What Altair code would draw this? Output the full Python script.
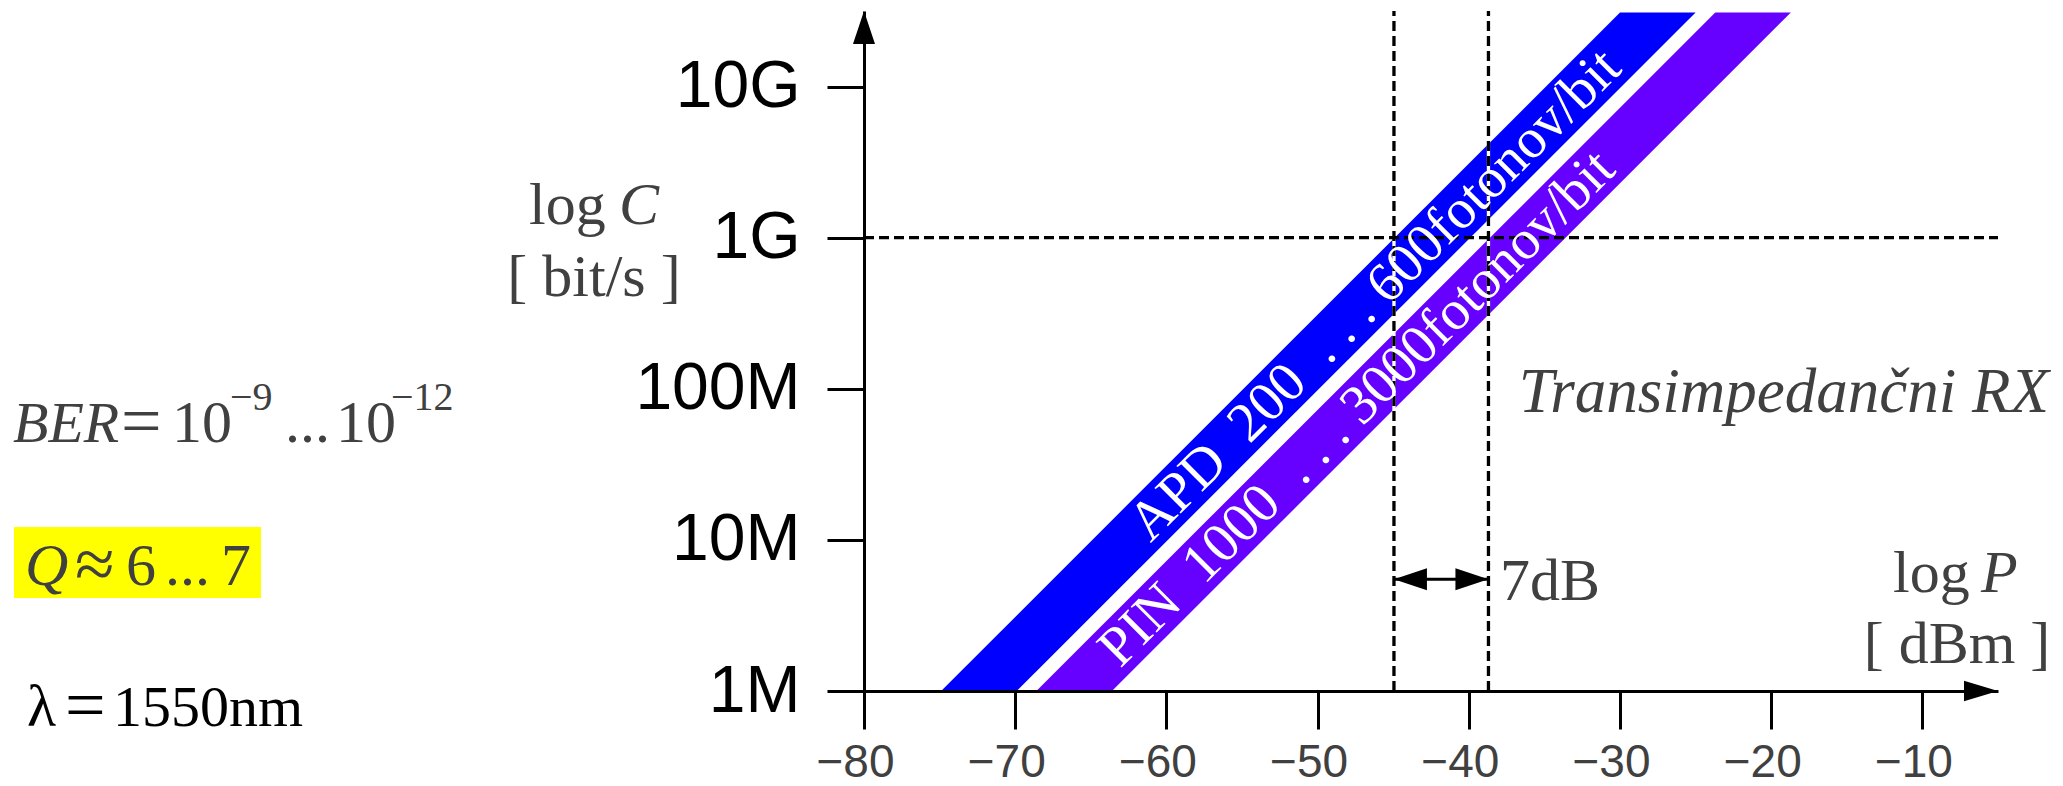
import altair as alt
import pandas as pd

# ---------------- data ----------------
y_tick_values = [6, 7, 8, 9, 10]                 # log10(C / (bit/s))
y_tick_labels = ["1M", "10M", "100M", "1G", "10G"]
x_tick_values = [-80, -70, -60, -50, -40, -30, -20, -10]
x_domain = [-80, -5]
y_domain = [6, 10.5]

band_names = ["APD", "PIN"]
band_left_1M = [-74.9, -68.6]      # dBm at 1 Mbit/s
band_right_1M = [-69.9, -63.6]
band_logc = [6.0, 10.49]
db_per_decade = 10.0
band_colors = ["#0000FF", "#6600FF"]
NB = "\u00a0"
band_labels = [f"APD{NB}{NB}200{NB}{NB}.{NB}.{NB}.{NB}600fotonov/bit",
               f"PIN{NB}{NB}1000{NB}{NB}.{NB}.{NB}.{NB}3000fotonov/bit"]
band_label_logc = [8.62, 7.87]

vline_dbm = [-44.95, -38.7]
hline_logc = [9]
gap_arrow_logc = [6.74]
gap_label = ["7dB"]

# ---------------- geometry ----------------
OX, OY = 864, 11
W, H = 1134, 680
GREY = "#404040"
SERIF = "Liberation Serif"
SANS = "Liberation Sans"

layers = []

# bands
for i, name in enumerate(band_names):
    df = pd.DataFrame({
        "logc": band_logc,
        "p1": [band_left_1M[i] + db_per_decade * (c - 6) for c in band_logc],
        "p2": [band_right_1M[i] + db_per_decade * (c - 6) for c in band_logc],
    })
    layers.append(
        alt.Chart(df).mark_area(orient="horizontal", color=band_colors[i], opacity=1)
        .encode(
            y=alt.Y("logc:Q", scale=alt.Scale(domain=y_domain, nice=False, zero=False),
                    axis=alt.Axis(values=y_tick_values, tickSize=37, tickWidth=3, domainWidth=3,
                                  domainColor="black", tickColor="black",
                                  labelFont=SANS, labelFontSize=66, labelColor="black",
                                  labelPadding=27, title=None, grid=False, zindex=1,
                                  labelExpr=" : ".join(
                                      f"datum.value == {v} ? '{l}'" for v, l in zip(y_tick_values, y_tick_labels)
                                  ) + " : ''")),
            x=alt.X("p1:Q", scale=alt.Scale(domain=x_domain, nice=False, zero=False),
                    axis=alt.Axis(values=x_tick_values, tickSize=38, tickWidth=3, domainWidth=3,
                                  domainColor="black", tickColor="black",
                                  labelFont=SANS, labelFontSize=46, labelColor=GREY,
                                  labelPadding=11, labelOffset=-9, title=None, grid=False,
                                  labelFlush=False, labelOverlap=False, zindex=1)),
            x2="p2:Q",
        )
    )

# reference lines
vdf = pd.DataFrame({"p": vline_dbm, "y0": [y_domain[0]] * len(vline_dbm), "y1": [y_domain[1]] * len(vline_dbm)})
layers.append(alt.Chart(vdf).mark_rule(color="white", strokeWidth=3.3)
              .encode(x="p:Q", y="y0:Q", y2="y1:Q"))
layers.append(alt.Chart(vdf).mark_rule(color="black", strokeWidth=3.3, strokeDash=[10, 5])
              .encode(x="p:Q", y="y0:Q", y2="y1:Q"))
hdf = pd.DataFrame({"c": hline_logc, "x0": [x_domain[0]], "x1": [x_domain[1]]})
layers.append(alt.Chart(hdf).mark_rule(color="black", strokeWidth=3.3, strokeDash=[10, 5])
              .encode(y="c:Q", x="x0:Q", x2="x1:Q"))

# band labels
ldf = pd.DataFrame({
    "t": band_labels,
    "c": band_label_logc,
    "p": [(band_left_1M[i] + band_right_1M[i]) / 2 + db_per_decade * (band_label_logc[i] - 6)
          for i in range(len(band_names))],
})
layers.append(alt.Chart(ldf).mark_text(angle=315, font=SERIF, fontSize=56, color="white",
                                       align="center", baseline="middle")
              .encode(x="p:Q", y="c:Q", text="t:N"))

# 7 dB double arrow
adf = pd.DataFrame({"x0": [vline_dbm[0]], "x1": [vline_dbm[1]], "c": gap_arrow_logc})
layers.append(alt.Chart(adf).mark_rule(color="black", strokeWidth=3)
              .encode(x="x0:Q", x2="x1:Q", y="c:Q"))
layers.append(alt.Chart(adf).mark_point(shape="M0,0L2,-0.667L2,0.667Z", size=1089, filled=True,
                                        color="black", opacity=1)
              .encode(x="x0:Q", y="c:Q"))
layers.append(alt.Chart(adf).mark_point(shape="M0,0L-2,-0.667L-2,0.667Z", size=1089, filled=True,
                                        color="black", opacity=1)
              .encode(x="x1:Q", y="c:Q"))

# axis arrow heads
ydf = pd.DataFrame({"x": [x_domain[0]], "y": [y_domain[1]]})
layers.append(alt.Chart(ydf).mark_point(shape="M0,0L0.667,2L-0.667,2Z", size=1089, filled=True,
                                        color="black", opacity=1)
              .encode(x="x:Q", y="y:Q"))
xdf = pd.DataFrame({"x": [x_domain[1]], "y": [y_domain[0]]})
layers.append(alt.Chart(xdf).mark_point(shape="M0,0L-2,-0.6L-2,0.6Z", size=1156, filled=True,
                                        color="black", opacity=1)
              .encode(x="x:Q", y="y:Q"))

# yellow box behind Q
layers.append(alt.Chart(pd.DataFrame({"a": [0]})).mark_rect(color="#FFFF00")
              .encode(x=alt.value(14 - OX), x2=alt.value(261 - OX),
                      y=alt.value(527 - OY), y2=alt.value(598 - OY)))

# annotation texts: (text, page x, page baseline y, size, italic, colour, align)
notes = [
    ("BER", 13, 442, 58, True, GREY, "left"),
    ("=", 121, 445, 72, False, GREY, "left"),
    ("10", 172, 442, 60, False, GREY, "left"),
    ("\u22129", 230, 410, 40, False, GREY, "left"),
    ("...", 285, 442, 60, False, GREY, "left"),
    ("10", 336, 442, 60, False, GREY, "left"),
    ("\u221212", 391, 410, 40, False, GREY, "left"),
    ("Q", 25, 585, 60, True, GREY, "left"),
    ("\u2248", 75, 588, 72, False, GREY, "left"),
    ("6", 126, 585, 60, False, GREY, "left"),
    ("...", 165, 585, 60, False, GREY, "left"),
    ("7", 221, 585, 60, False, GREY, "left"),
    ("\u03bb", 27, 726, 60, False, "black", "left"),
    ("=", 65, 729, 72, False, "black", "left"),
    ("1550nm", 113, 726, 58, False, "black", "left"),
    ("log", 529, 224, 60, False, GREY, "left"),
    ("C", 619, 224, 60, True, GREY, "left"),
    ("[ bit/s ]", 594, 296, 60, False, GREY, "center"),
    ("log", 1893, 592, 60, False, GREY, "left"),
    ("P", 1981, 592, 60, True, GREY, "left"),
    ("[ dBm ]", 1957, 663, 60, False, GREY, "center"),
    ("Transimpedan\u010dni RX", 2049, 412, 63, True, GREY, "right"),
    (gap_label[0], 1500, 600, 60, False, GREY, "left"),
]
for t, x, y, s, it, col, al in notes:
    layers.append(
        alt.Chart(pd.DataFrame({"t": [t]})).mark_text(
            font=SERIF, fontSize=s, fontStyle="italic" if it else "normal",
            color=col, align=al, baseline="alphabetic")
        .encode(x=alt.value(x - OX), y=alt.value(y - OY), text="t:N")
    )

chart = alt.layer(*layers).properties(
    width=W, height=H,
    padding={"left": OX, "top": OY, "right": 2063 - OX - W, "bottom": 786 - OY - H},
    autosize=alt.AutoSizeParams(type="none"),
    background="white",
).configure_view(stroke=None)

chart.save("out.html", embed_options={"renderer": "svg", "actions": False})
